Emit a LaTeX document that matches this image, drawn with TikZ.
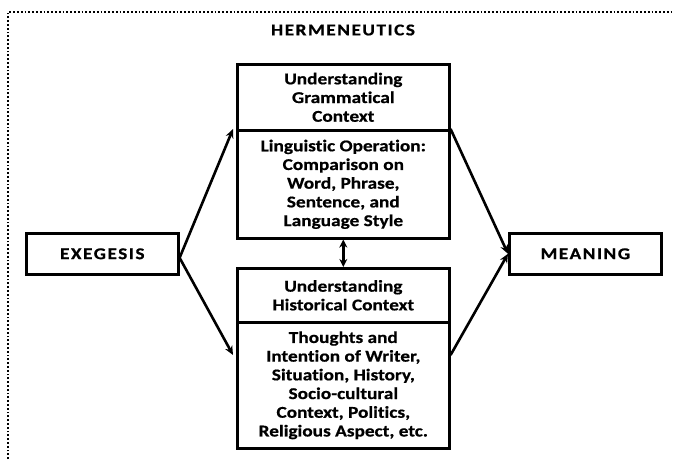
\documentclass[tikz,border=0pt]{standalone}
\usepackage{fontspec}
\setmainfont[FakeStretch=1.17,FakeBold=0.6,Ligatures=CommonOff]{Carlito}
\newfontfamily\capsfont[FakeStretch=1.17,FakeBold=0.6,LetterSpace=9]{Carlito}
\usetikzlibrary{arrows.meta}
\begin{document}
\begin{tikzpicture}[x=1pt,y=-1pt,
  txt/.style={font=\bfseries\fontsize{16.5}{18.7}\selectfont, align=center, inner sep=0pt},
  capstxt/.style={font=\capsfont\bfseries\fontsize{16.5}{18.7}\selectfont, align=center, inner sep=0pt},
  part/.style={draw, line width=2.6pt, txt, minimum width=212pt, anchor=north west},
  endbox/.style={draw, line width=2.6pt, capstxt, minimum width=152pt, minimum height=41pt, anchor=north west},
  arr/.style={line width=2.6pt, -{Stealth[length=9pt,width=8pt]}},
  darr/.style={line width=2.4pt, {Stealth[length=8pt,width=8pt]}-{Stealth[length=8pt,width=8pt]}}]
\useasboundingbox (0,0) rectangle (674,459);
\draw[line width=1.8pt, dotted] (8,459) -- (8,12) -- (674,12);
\node[capstxt] (title) at (343,30) {HERMENEUTICS};
\node[part, minimum height=66pt] (g1) at (236,63) {Understanding\\Grammatical\\Context};
\node[part, minimum height=108pt] (g2) at (236,129) {Linguistic Operation:\\Comparison on\\Word, Phrase,\\Sentence, and\\Language Style};
\node[part, minimum height=54pt] (h1) at (236,267) {Understanding\\Historical Context};
\node[part, minimum height=126pt] (h2) at (236,321) {Thoughts and\\Intention of Writer,\\Situation, History,\\Socio-cultural\\Context, Politics,\\Religious Aspect, etc.};
\node[endbox] (ex) at (25,232) {EXEGESIS};
\node[endbox] (me) at (508,232) {MEANING};
\coordinate (exo) at ([yshift=-4pt]ex.east);
\draw[arr] (exo) -- ([xshift=-3pt]g2.north west);
\draw[arr] (exo) -- ([xshift=-3pt,yshift=-34pt]h2.north west);
\draw[arr] (g2.north east) -- (me.west);
\draw[arr] ([yshift=-34pt]h2.north east) -- (me.west);
\draw[darr] (g2.south) -- (h1.north);
\end{tikzpicture}
\end{document}
